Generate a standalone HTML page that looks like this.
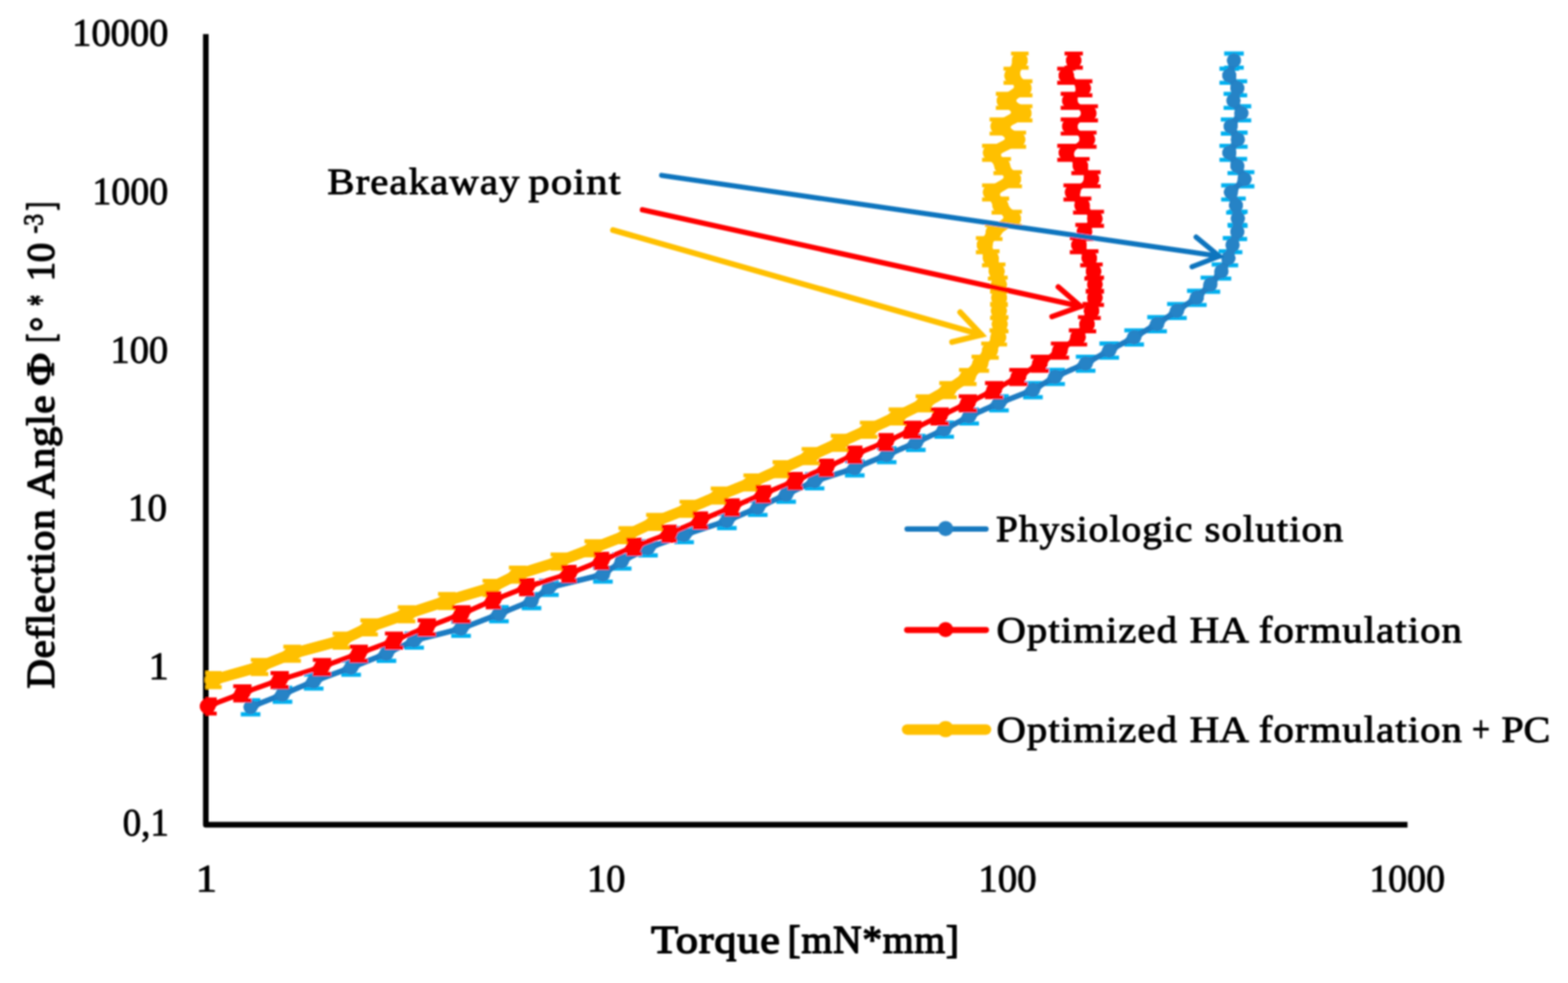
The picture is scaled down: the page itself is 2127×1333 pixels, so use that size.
<!DOCTYPE html>
<html lang="en">
<head>
<meta charset="utf-8">
<title>Torque vs. deflection angle</title>
<style>
html, body { margin: 0; padding: 0; background: #fff; }
body { width: 2127px; height: 1333px; overflow: hidden; }
svg { display: block; }
text { font-family: "Liberation Serif", "DejaVu Serif", serif; fill: #000; }
</style>
</head>
<body>
<svg width="2127" height="1333" viewBox="0 0 2127 1333" role="img" aria-label="Deflection angle versus torque for three formulations">
<rect width="2127" height="1333" fill="#fff"/>
<defs><filter id="soft" x="0" y="0" width="2127" height="1333" filterUnits="userSpaceOnUse"><feGaussianBlur stdDeviation="0.9"/></filter><clipPath id="plot"><rect x="279" y="40" width="1640" height="1079"/></clipPath><filter id="goo" x="0" y="0" width="2127" height="1333" filterUnits="userSpaceOnUse" color-interpolation-filters="sRGB"><feGaussianBlur in="SourceGraphic" stdDeviation="2.2" result="b"/><feColorMatrix in="b" type="matrix" values="1 0 0 0 0  0 1 0 0 0  0 0 1 0 0  0 0 0 9 -3.6"/></filter></defs>
<g filter="url(#soft)">
<path d="M279.2 46.2V1118.4H1909.3" fill="none" stroke="#000" stroke-width="7.6" stroke-linejoin="round"/>
<path clip-path="url(#plot)" d="M288.8 912.8V931.8M276.9 912.8h23.8M276.9 931.8h23.8M352.1 894.9V914.0M340.2 894.9h23.8M340.2 914.0h23.8M396.3 877.0V896.1M384.4 877.0h23.8M384.4 896.1h23.8M463.1 859.1V878.2M451.2 859.1h23.8M451.2 878.2h23.8M500.7 841.2V860.3M488.8 841.2h23.8M488.8 860.3h23.8M551.5 823.4V842.5M539.6 823.4h23.8M539.6 842.5h23.8M606.1 805.5V824.6M594.2 805.5h23.8M594.2 824.6h23.8M666.5 787.6V806.7M654.6 787.6h23.8M654.6 806.7h23.8M702.2 769.8V788.8M690.3 769.8h23.8M690.3 788.8h23.8M758.7 751.9V771.0M746.8 751.9h23.8M746.8 771.0h23.8M804.7 734.0V753.1M792.8 734.0h23.8M792.8 753.1h23.8M850.8 716.1V735.2M838.9 716.1h23.8M838.9 735.2h23.8M888.4 698.2V717.3M876.5 698.2h23.8M876.5 717.3h23.8M933.7 680.4V699.5M921.8 680.4h23.8M921.8 699.5h23.8M976.0 662.5V681.6M964.1 662.5h23.8M964.1 681.6h23.8M1020.4 644.6V663.7M1008.5 644.6h23.8M1008.5 663.7h23.8M1059.9 626.8V645.8M1048.0 626.8h23.8M1048.0 645.8h23.8M1099.3 608.9V628.0M1087.4 608.9h23.8M1087.4 628.0h23.8M1138.8 591.0V610.1M1126.9 591.0h23.8M1126.9 610.1h23.8M1178.3 573.1V592.2M1166.4 573.1h23.8M1166.4 592.2h23.8M1217.3 555.2V574.3M1205.4 555.2h23.8M1205.4 574.3h23.8M1254.0 537.4V556.5M1242.1 537.4h23.8M1242.1 556.5h23.8M1286.0 519.5V538.6M1274.1 519.5h23.8M1274.1 538.6h23.8M1312.8 501.6V520.7M1300.9 501.6h23.8M1300.9 520.7h23.8M1329.8 483.7V502.8M1317.9 483.7h23.8M1317.9 502.8h23.8M1342.9 465.9V485.0M1331.0 465.9h23.8M1331.0 485.0h23.8M1354.2 448.0V467.1M1342.3 448.0h23.8M1342.3 467.1h23.8M1356.1 430.1V449.2M1344.2 430.1h23.8M1344.2 449.2h23.8M1355.0 412.2V431.3M1343.1 412.2h23.8M1343.1 431.3h23.8M1355.3 394.4V413.5M1343.4 394.4h23.8M1343.4 413.5h23.8M1355.0 376.5V395.6M1343.1 376.5h23.8M1343.1 395.6h23.8M1352.0 358.6V377.7M1340.1 358.6h23.8M1340.1 377.7h23.8M1344.0 340.7V359.8M1332.1 340.7h23.8M1332.1 359.8h23.8M1335.7 322.9V342.0M1323.8 322.9h23.8M1323.8 342.0h23.8M1348.0 305.0V324.1M1336.1 305.0h23.8M1336.1 324.1h23.8M1374.3 287.1V306.2M1362.4 287.1h23.8M1362.4 306.2h23.8M1357.0 269.2V288.3M1345.1 269.2h23.8M1345.1 288.3h23.8M1344.1 251.4V270.5M1332.2 251.4h23.8M1332.2 270.5h23.8M1374.4 233.5V252.6M1362.5 233.5h23.8M1362.5 252.6h23.8M1359.5 215.6V234.7M1347.6 215.6h23.8M1347.6 234.7h23.8M1344.1 197.7V216.8M1332.2 197.7h23.8M1332.2 216.8h23.8M1380.0 179.9V199.0M1368.1 179.9h23.8M1368.1 199.0h23.8M1354.3 162.0V181.1M1342.4 162.0h23.8M1342.4 181.1h23.8M1388.6 144.1V163.2M1376.7 144.1h23.8M1376.7 163.2h23.8M1362.8 127.2V146.3M1350.9 127.2h23.8M1350.9 146.3h23.8M1388.6 110.2V129.3M1376.7 110.2h23.8M1376.7 129.3h23.8M1373.2 93.1V112.2M1361.3 93.1h23.8M1361.3 112.2h23.8M1383.4 72.6V91.7M1371.5 72.6h23.8M1371.5 91.7h23.8" fill="none" stroke="#FFC000" stroke-width="5.4"/>
<g filter="url(#goo)">
<polyline clip-path="url(#plot)" points="288.8,922.0 352.1,904.2 396.3,886.3 463.1,868.4 500.7,850.5 551.5,832.7 606.1,814.8 666.5,796.9 702.2,779.0 758.7,761.2 804.7,743.3 850.8,725.4 888.4,707.5 933.7,689.7 976.0,671.8 1020.4,653.9 1059.9,636.0 1099.3,618.2 1138.8,600.3 1178.3,582.4 1217.3,564.5 1254.0,546.7 1286.0,528.8 1312.8,510.9 1329.8,493.0 1342.9,475.2 1354.2,457.3 1356.1,439.4 1355.0,421.5 1355.3,403.7 1355.0,385.8 1352.0,367.9 1344.0,350.0 1335.7,332.2 1348.0,314.3 1374.3,296.4 1357.0,278.5 1344.1,260.7 1374.4,242.8 1359.5,224.9 1344.1,207.0 1380.0,189.2 1354.3,171.3 1388.6,153.4 1362.8,136.5 1388.6,119.5 1373.2,102.4 1383.4,81.9" fill="none" stroke="#FFC000" stroke-width="14.2" stroke-linejoin="round" stroke-linecap="round"/>
<g fill="#FFC000"><circle cx="288.8" cy="922.0" r="10.8"/><circle cx="352.1" cy="904.2" r="10.8"/><circle cx="396.3" cy="886.3" r="10.8"/><circle cx="463.1" cy="868.4" r="10.8"/><circle cx="500.7" cy="850.5" r="10.8"/><circle cx="551.5" cy="832.7" r="10.8"/><circle cx="606.1" cy="814.8" r="10.8"/><circle cx="666.5" cy="796.9" r="10.8"/><circle cx="702.2" cy="779.0" r="10.8"/><circle cx="758.7" cy="761.2" r="10.8"/><circle cx="804.7" cy="743.3" r="10.8"/><circle cx="850.8" cy="725.4" r="10.8"/><circle cx="888.4" cy="707.5" r="10.8"/><circle cx="933.7" cy="689.7" r="10.8"/><circle cx="976.0" cy="671.8" r="10.8"/><circle cx="1020.4" cy="653.9" r="10.8"/><circle cx="1059.9" cy="636.0" r="10.8"/><circle cx="1099.3" cy="618.2" r="10.8"/><circle cx="1138.8" cy="600.3" r="10.8"/><circle cx="1178.3" cy="582.4" r="10.8"/><circle cx="1217.3" cy="564.5" r="10.8"/><circle cx="1254.0" cy="546.7" r="10.8"/><circle cx="1286.0" cy="528.8" r="10.8"/><circle cx="1312.8" cy="510.9" r="10.8"/><circle cx="1329.8" cy="493.0" r="10.8"/><circle cx="1342.9" cy="475.2" r="10.8"/><circle cx="1354.2" cy="457.3" r="10.8"/><circle cx="1356.1" cy="439.4" r="10.8"/><circle cx="1355.0" cy="421.5" r="10.8"/><circle cx="1355.3" cy="403.7" r="10.8"/><circle cx="1355.0" cy="385.8" r="10.8"/><circle cx="1352.0" cy="367.9" r="10.8"/><circle cx="1344.0" cy="350.0" r="10.8"/><circle cx="1335.7" cy="332.2" r="10.8"/><circle cx="1348.0" cy="314.3" r="10.8"/><circle cx="1374.3" cy="296.4" r="10.8"/><circle cx="1357.0" cy="278.5" r="10.8"/><circle cx="1344.1" cy="260.7" r="10.8"/><circle cx="1374.4" cy="242.8" r="10.8"/><circle cx="1359.5" cy="224.9" r="10.8"/><circle cx="1344.1" cy="207.0" r="10.8"/><circle cx="1380.0" cy="189.2" r="10.8"/><circle cx="1354.3" cy="171.3" r="10.8"/><circle cx="1388.6" cy="153.4" r="10.8"/><circle cx="1362.8" cy="136.5" r="10.8"/><circle cx="1388.6" cy="119.5" r="10.8"/><circle cx="1373.2" cy="102.4" r="10.8"/><circle cx="1383.4" cy="81.9" r="10.8"/></g>
</g>
<path clip-path="url(#plot)" d="M339.9 949.5V968.6M326.6 949.5h26.6M326.6 968.6h26.6M383.2 932.5V951.6M369.9 932.5h26.6M369.9 951.6h26.6M425.5 914.6V933.7M412.2 914.6h26.6M412.2 933.7h26.6M476.3 895.9V915.0M463.0 895.9h26.6M463.0 915.0h26.6M524.2 877.0V896.1M510.9 877.0h26.6M510.9 896.1h26.6M561.8 859.1V878.2M548.5 859.1h26.6M548.5 878.2h26.6M625.4 843.1V862.2M612.1 843.1h26.6M612.1 862.2h26.6M676.8 823.4V842.5M663.5 823.4h26.6M663.5 842.5h26.6M721.0 805.5V824.6M707.7 805.5h26.6M707.7 824.6h26.6M744.6 787.6V806.7M731.3 787.6h26.6M731.3 806.7h26.6M817.9 769.8V788.8M804.6 769.8h26.6M804.6 788.8h26.6M843.3 751.9V771.0M830.0 751.9h26.6M830.0 771.0h26.6M879.0 734.0V753.1M865.7 734.0h26.6M865.7 753.1h26.6M928.0 716.1V735.2M914.7 716.1h26.6M914.7 735.2h26.6M986.0 697.0V716.1M972.7 697.0h26.6M972.7 716.1h26.6M1027.9 679.2V698.3M1014.6 679.2h26.6M1014.6 698.3h26.6M1066.4 661.3V680.4M1053.1 661.3h26.6M1053.1 680.4h26.6M1105.0 643.1V662.2M1091.7 643.1h26.6M1091.7 662.2h26.6M1159.5 625.5V644.6M1146.2 625.5h26.6M1146.2 644.6h26.6M1202.8 607.7V626.8M1189.5 607.7h26.6M1189.5 626.8h26.6M1242.3 591.0V610.1M1229.0 591.0h26.6M1229.0 610.1h26.6M1280.8 573.1V592.2M1267.5 573.1h26.6M1267.5 592.2h26.6M1314.7 555.2V574.3M1301.4 555.2h26.6M1301.4 574.3h26.6M1355.1 537.4V556.5M1341.8 537.4h26.6M1341.8 556.5h26.6M1401.2 519.5V538.6M1387.9 519.5h26.6M1387.9 538.6h26.6M1431.3 501.6V520.7M1418.0 501.6h26.6M1418.0 520.7h26.6M1472.7 483.7V502.8M1459.4 483.7h26.6M1459.4 502.8h26.6M1504.7 465.9V485.0M1491.4 465.9h26.6M1491.4 485.0h26.6M1538.5 448.0V467.1M1525.2 448.0h26.6M1525.2 467.1h26.6M1569.6 430.1V449.2M1556.3 430.1h26.6M1556.3 449.2h26.6M1596.5 412.2V431.3M1583.2 412.2h26.6M1583.2 431.3h26.6M1623.5 394.4V413.5M1610.2 394.4h26.6M1610.2 413.5h26.6M1641.9 376.5V395.6M1628.6 376.5h26.6M1628.6 395.6h26.6M1656.9 358.6V377.7M1643.6 358.6h26.6M1643.6 377.7h26.6M1666.3 340.7V359.8M1653.0 340.7h26.6M1653.0 359.8h26.6M1672.0 322.9V342.0M1658.7 322.9h26.6M1658.7 342.0h26.6M1678.4 305.0V324.1M1665.1 305.0h26.6M1665.1 324.1h26.6M1679.1 287.1V306.2M1665.8 287.1h26.6M1665.8 306.2h26.6M1676.6 269.2V288.3M1663.3 269.2h26.6M1663.3 288.3h26.6M1669.8 251.4V270.5M1656.5 251.4h26.6M1656.5 270.5h26.6M1688.3 233.5V252.6M1675.0 233.5h26.6M1675.0 252.6h26.6M1678.4 215.6V234.7M1665.1 215.6h26.6M1665.1 234.7h26.6M1667.5 197.7V216.8M1654.2 197.7h26.6M1654.2 216.8h26.6M1679.1 179.9V199.0M1665.8 179.9h26.6M1665.8 199.0h26.6M1669.3 162.0V181.1M1656.0 162.0h26.6M1656.0 181.1h26.6M1684.0 144.1V163.2M1670.7 144.1h26.6M1670.7 163.2h26.6M1673.1 127.2V146.3M1659.8 127.2h26.6M1659.8 146.3h26.6M1678.5 110.2V129.3M1665.2 110.2h26.6M1665.2 129.3h26.6M1667.5 93.1V112.2M1654.2 93.1h26.6M1654.2 112.2h26.6M1673.9 72.6V91.7M1660.6 72.6h26.6M1660.6 91.7h26.6" fill="none" stroke="#00B0F0" stroke-width="5.6"/>
<g filter="url(#goo)">
<polyline clip-path="url(#plot)" points="339.9,958.8 383.2,941.8 425.5,923.9 476.3,905.2 524.2,886.3 561.8,868.4 625.4,852.4 676.8,832.7 721.0,814.8 744.6,796.9 817.9,779.0 843.3,761.2 879.0,743.3 928.0,725.4 986.0,706.3 1027.9,688.5 1066.4,670.6 1105.0,652.4 1159.5,634.8 1202.8,617.0 1242.3,600.3 1280.8,582.4 1314.7,564.5 1355.1,546.7 1401.2,528.8 1431.3,510.9 1472.7,493.0 1504.7,475.2 1538.5,457.3 1569.6,439.4 1596.5,421.5 1623.5,403.7 1641.9,385.8 1656.9,367.9 1666.3,350.0 1672.0,332.2 1678.4,314.3 1679.1,296.4 1676.6,278.5 1669.8,260.7 1688.3,242.8 1678.4,224.9 1667.5,207.0 1679.1,189.2 1669.3,171.3 1684.0,153.4 1673.1,136.5 1678.5,119.5 1667.5,102.4 1673.9,81.9" fill="none" stroke="#1F7CC2" stroke-width="7.0" stroke-linejoin="round" stroke-linecap="round"/>
<g fill="#2683C6"><circle cx="339.9" cy="958.8" r="9.7"/><circle cx="383.2" cy="941.8" r="9.7"/><circle cx="425.5" cy="923.9" r="9.7"/><circle cx="476.3" cy="905.2" r="9.7"/><circle cx="524.2" cy="886.3" r="9.7"/><circle cx="561.8" cy="868.4" r="9.7"/><circle cx="625.4" cy="852.4" r="9.7"/><circle cx="676.8" cy="832.7" r="9.7"/><circle cx="721.0" cy="814.8" r="9.7"/><circle cx="744.6" cy="796.9" r="9.7"/><circle cx="817.9" cy="779.0" r="9.7"/><circle cx="843.3" cy="761.2" r="9.7"/><circle cx="879.0" cy="743.3" r="9.7"/><circle cx="928.0" cy="725.4" r="9.7"/><circle cx="986.0" cy="706.3" r="9.7"/><circle cx="1027.9" cy="688.5" r="9.7"/><circle cx="1066.4" cy="670.6" r="9.7"/><circle cx="1105.0" cy="652.4" r="9.7"/><circle cx="1159.5" cy="634.8" r="9.7"/><circle cx="1202.8" cy="617.0" r="9.7"/><circle cx="1242.3" cy="600.3" r="9.7"/><circle cx="1280.8" cy="582.4" r="9.7"/><circle cx="1314.7" cy="564.5" r="9.7"/><circle cx="1355.1" cy="546.7" r="9.7"/><circle cx="1401.2" cy="528.8" r="9.7"/><circle cx="1431.3" cy="510.9" r="9.7"/><circle cx="1472.7" cy="493.0" r="9.7"/><circle cx="1504.7" cy="475.2" r="9.7"/><circle cx="1538.5" cy="457.3" r="9.7"/><circle cx="1569.6" cy="439.4" r="9.7"/><circle cx="1596.5" cy="421.5" r="9.7"/><circle cx="1623.5" cy="403.7" r="9.7"/><circle cx="1641.9" cy="385.8" r="9.7"/><circle cx="1656.9" cy="367.9" r="9.7"/><circle cx="1666.3" cy="350.0" r="9.7"/><circle cx="1672.0" cy="332.2" r="9.7"/><circle cx="1678.4" cy="314.3" r="9.7"/><circle cx="1679.1" cy="296.4" r="9.7"/><circle cx="1676.6" cy="278.5" r="9.7"/><circle cx="1669.8" cy="260.7" r="9.7"/><circle cx="1688.3" cy="242.8" r="9.7"/><circle cx="1678.4" cy="224.9" r="9.7"/><circle cx="1667.5" cy="207.0" r="9.7"/><circle cx="1679.1" cy="189.2" r="9.7"/><circle cx="1669.3" cy="171.3" r="9.7"/><circle cx="1684.0" cy="153.4" r="9.7"/><circle cx="1673.1" cy="136.5" r="9.7"/><circle cx="1678.5" cy="119.5" r="9.7"/><circle cx="1667.5" cy="102.4" r="9.7"/><circle cx="1673.9" cy="81.9" r="9.7"/></g>
</g>
<path clip-path="url(#plot)" d="M281.6 948.5V967.6M269.2 948.5h24.8M269.2 967.6h24.8M328.8 930.6V949.7M316.4 930.6h24.8M316.4 949.7h24.8M379.4 912.8V931.8M367.0 912.8h24.8M367.0 931.8h24.8M436.8 894.9V914.0M424.4 894.9h24.8M424.4 914.0h24.8M486.6 877.0V896.1M474.2 877.0h24.8M474.2 896.1h24.8M534.6 859.1V878.2M522.2 859.1h24.8M522.2 878.2h24.8M578.9 841.2V860.3M566.5 841.2h24.8M566.5 860.3h24.8M625.9 823.4V842.5M613.5 823.4h24.8M613.5 842.5h24.8M669.3 804.5V823.6M658.9 804.5h20.8M658.9 823.6h20.8M714.5 786.6V805.7M704.1 786.6h20.8M704.1 805.7h20.8M771.8 768.8V787.8M761.4 768.8h20.8M761.4 787.8h20.8M816.0 750.9V770.0M805.6 750.9h20.8M805.6 770.0h20.8M860.2 732.0V751.1M849.8 732.0h20.8M849.8 751.1h20.8M907.8 714.1V733.2M897.4 714.1h20.8M897.4 733.2h20.8M950.1 696.2V715.3M939.7 696.2h20.8M939.7 715.3h20.8M993.1 678.4V697.5M982.7 678.4h20.8M982.7 697.5h20.8M1035.4 660.5V679.6M1025.0 660.5h20.8M1025.0 679.6h20.8M1078.7 642.6V661.7M1068.3 642.6h20.8M1068.3 661.7h20.8M1121.0 624.8V643.8M1110.6 624.8h20.8M1110.6 643.8h20.8M1159.5 606.9V626.0M1149.1 606.9h20.8M1149.1 626.0h20.8M1201.9 590.0V609.1M1191.5 590.0h20.8M1191.5 609.1h20.8M1237.6 573.1V592.2M1225.2 573.1h24.8M1225.2 592.2h24.8M1274.7 555.2V574.3M1262.3 555.2h24.8M1262.3 574.3h24.8M1312.8 537.4V556.5M1300.4 537.4h24.8M1300.4 556.5h24.8M1348.6 519.5V538.6M1336.2 519.5h24.8M1336.2 538.6h24.8M1381.5 501.6V520.7M1369.1 501.6h24.8M1369.1 520.7h24.8M1410.6 483.7V502.8M1398.2 483.7h24.8M1398.2 502.8h24.8M1437.9 465.9V485.0M1425.5 465.9h24.8M1425.5 485.0h24.8M1462.3 448.0V467.1M1449.9 448.0h24.8M1449.9 467.1h24.8M1474.6 430.1V449.2M1462.2 430.1h24.8M1462.2 449.2h24.8M1480.8 412.2V431.3M1468.4 412.2h24.8M1468.4 431.3h24.8M1485.2 394.4V413.5M1472.8 394.4h24.8M1472.8 413.5h24.8M1485.2 376.5V395.6M1472.8 376.5h24.8M1472.8 395.6h24.8M1483.4 358.6V377.7M1471.0 358.6h24.8M1471.0 377.7h24.8M1477.7 340.7V359.8M1465.3 340.7h24.8M1465.3 359.8h24.8M1463.6 322.9V342.0M1451.2 322.9h24.8M1451.2 342.0h24.8M1471.1 305.0V324.1M1458.7 305.0h24.8M1458.7 324.1h24.8M1485.2 287.1V306.2M1472.8 287.1h24.8M1472.8 306.2h24.8M1468.0 269.2V288.3M1455.6 269.2h24.8M1455.6 288.3h24.8M1455.0 251.4V270.5M1442.6 251.4h24.8M1442.6 270.5h24.8M1480.6 233.5V252.6M1468.2 233.5h24.8M1468.2 252.6h24.8M1465.7 215.6V234.7M1453.3 215.6h24.8M1453.3 234.7h24.8M1446.6 197.7V216.8M1434.2 197.7h24.8M1434.2 216.8h24.8M1475.1 179.9V199.0M1462.7 179.9h24.8M1462.7 199.0h24.8M1451.2 162.0V181.1M1438.8 162.0h24.8M1438.8 181.1h24.8M1477.0 144.1V163.2M1464.6 144.1h24.8M1464.6 163.2h24.8M1451.2 127.2V146.3M1438.8 127.2h24.8M1438.8 146.3h24.8M1469.4 110.2V129.3M1457.0 110.2h24.8M1457.0 129.3h24.8M1446.5 93.1V112.2M1434.1 93.1h24.8M1434.1 112.2h24.8M1456.5 72.6V91.7M1444.1 72.6h24.8M1444.1 91.7h24.8" fill="none" stroke="#FF0000" stroke-width="5.4"/>
<g filter="url(#goo)">
<polyline clip-path="url(#plot)" points="281.6,957.8 328.8,939.9 379.4,922.0 436.8,904.2 486.6,886.3 534.6,868.4 578.9,850.5 625.9,832.7 669.3,813.8 714.5,795.9 771.8,778.0 816.0,760.2 860.2,741.3 907.8,723.4 950.1,705.5 993.1,687.7 1035.4,669.8 1078.7,651.9 1121.0,634.0 1159.5,616.2 1201.9,599.3 1237.6,582.4 1274.7,564.5 1312.8,546.7 1348.6,528.8 1381.5,510.9 1410.6,493.0 1437.9,475.2 1462.3,457.3 1474.6,439.4 1480.8,421.5 1485.2,403.7 1485.2,385.8 1483.4,367.9 1477.7,350.0 1463.6,332.2 1471.1,314.3 1485.2,296.4 1468.0,278.5 1455.0,260.7 1480.6,242.8 1465.7,224.9 1446.6,207.0 1475.1,189.2 1451.2,171.3 1477.0,153.4 1451.2,136.5 1469.4,119.5 1446.5,102.4 1456.5,81.9" fill="none" stroke="#FF0000" stroke-width="6.4" stroke-linejoin="round" stroke-linecap="round"/>
<g fill="#FF0000"><circle cx="281.6" cy="957.8" r="10.6"/><circle cx="328.8" cy="939.9" r="10.6"/><circle cx="379.4" cy="922.0" r="10.6"/><circle cx="436.8" cy="904.2" r="10.6"/><circle cx="486.6" cy="886.3" r="10.6"/><circle cx="534.6" cy="868.4" r="10.6"/><circle cx="578.9" cy="850.5" r="10.6"/><circle cx="625.9" cy="832.7" r="10.6"/><circle cx="669.3" cy="813.8" r="10.6"/><circle cx="714.5" cy="795.9" r="10.6"/><circle cx="771.8" cy="778.0" r="10.6"/><circle cx="816.0" cy="760.2" r="10.6"/><circle cx="860.2" cy="741.3" r="10.6"/><circle cx="907.8" cy="723.4" r="10.6"/><circle cx="950.1" cy="705.5" r="10.6"/><circle cx="993.1" cy="687.7" r="10.6"/><circle cx="1035.4" cy="669.8" r="10.6"/><circle cx="1078.7" cy="651.9" r="10.6"/><circle cx="1121.0" cy="634.0" r="10.6"/><circle cx="1159.5" cy="616.2" r="10.6"/><circle cx="1201.9" cy="599.3" r="10.6"/><circle cx="1237.6" cy="582.4" r="10.6"/><circle cx="1274.7" cy="564.5" r="10.6"/><circle cx="1312.8" cy="546.7" r="10.6"/><circle cx="1348.6" cy="528.8" r="10.6"/><circle cx="1381.5" cy="510.9" r="10.6"/><circle cx="1410.6" cy="493.0" r="10.6"/><circle cx="1437.9" cy="475.2" r="10.6"/><circle cx="1462.3" cy="457.3" r="10.6"/><circle cx="1474.6" cy="439.4" r="10.6"/><circle cx="1480.8" cy="421.5" r="10.6"/><circle cx="1485.2" cy="403.7" r="10.6"/><circle cx="1485.2" cy="385.8" r="10.6"/><circle cx="1483.4" cy="367.9" r="10.6"/><circle cx="1477.7" cy="350.0" r="10.6"/><circle cx="1463.6" cy="332.2" r="10.6"/><circle cx="1471.1" cy="314.3" r="10.6"/><circle cx="1485.2" cy="296.4" r="10.6"/><circle cx="1468.0" cy="278.5" r="10.6"/><circle cx="1455.0" cy="260.7" r="10.6"/><circle cx="1480.6" cy="242.8" r="10.6"/><circle cx="1465.7" cy="224.9" r="10.6"/><circle cx="1446.6" cy="207.0" r="10.6"/><circle cx="1475.1" cy="189.2" r="10.6"/><circle cx="1451.2" cy="171.3" r="10.6"/><circle cx="1477.0" cy="153.4" r="10.6"/><circle cx="1451.2" cy="136.5" r="10.6"/><circle cx="1469.4" cy="119.5" r="10.6"/><circle cx="1446.5" cy="102.4" r="10.6"/><circle cx="1456.5" cy="81.9" r="10.6"/></g>
</g>
<g fill="none" stroke="#1174BE" stroke-width="6.9" stroke-linecap="round" stroke-linejoin="miter"><path d="M897.5 237.8L1653.9 347.4"/><path d="M1622.5 321.5L1653.9 347.4L1617.0 361.8"/></g>
<g fill="none" stroke="#FF0000" stroke-width="7.2" stroke-linecap="round" stroke-linejoin="miter"><path d="M871.5 284.5L1466.0 415.5"/><path d="M1435.5 389L1466.0 415.5L1427.0 429.4"/></g>
<g fill="none" stroke="#FFC000" stroke-width="7.8" stroke-linecap="round" stroke-linejoin="miter"><path d="M831.5 312.0L1331.5 454.0"/><path d="M1302.5 423.5L1331.5 454.0L1291.5 463.8"/></g>
<path d="M1230.5 717.3H1337.5" stroke="#1578BF" stroke-width="7.2" stroke-linecap="round" fill="none"/>
<circle cx="1282.7" cy="716.7" r="10.3" fill="#2683C6"/>
<path d="M1230.5 854.3H1337.5" stroke="#FF0000" stroke-width="8.2" stroke-linecap="round" fill="none"/>
<circle cx="1282.7" cy="853.7" r="10.3" fill="#FF0000"/>
<path d="M1230.5 989.3H1337.5" stroke="#FFC000" stroke-width="14.2" stroke-linecap="round" fill="none"/>
<circle cx="1282.7" cy="988.7" r="11.0" fill="#FFC000"/>
<text font-size="52" font-weight="normal" stroke="#000" stroke-width="1.1" stroke-linejoin="round"><tspan x="97.8" y="61.6" textLength="130.7" lengthAdjust="spacingAndGlyphs">10000</tspan></text>
<text font-size="52" font-weight="normal" stroke="#000" stroke-width="1.1" stroke-linejoin="round"><tspan x="125.3" y="276.6" textLength="102.8" lengthAdjust="spacingAndGlyphs">1000</tspan></text>
<text font-size="52" font-weight="normal" stroke="#000" stroke-width="1.1" stroke-linejoin="round"><tspan x="149.8" y="492.0" textLength="78.4" lengthAdjust="spacingAndGlyphs">100</tspan></text>
<text font-size="52" font-weight="normal" stroke="#000" stroke-width="1.1" stroke-linejoin="round"><tspan x="173.4" y="705.8" textLength="53.2" lengthAdjust="spacingAndGlyphs">10</tspan></text>
<text font-size="52" font-weight="normal" stroke="#000" stroke-width="1.1" stroke-linejoin="round"><tspan x="201.5" y="920.5" textLength="27.4" lengthAdjust="spacingAndGlyphs">1</tspan></text>
<text font-size="52" font-weight="normal" stroke="#000" stroke-width="1.1" stroke-linejoin="round"><tspan x="166.4" y="1133.0" textLength="62.5" lengthAdjust="spacingAndGlyphs">0,1</tspan></text>
<text font-size="52" font-weight="normal" stroke="#000" stroke-width="1.1" stroke-linejoin="round"><tspan x="265.5" y="1209.0" textLength="28.9" lengthAdjust="spacingAndGlyphs">1</tspan></text>
<text font-size="52" font-weight="normal" stroke="#000" stroke-width="1.1" stroke-linejoin="round"><tspan x="796.2" y="1209.0" textLength="52.3" lengthAdjust="spacingAndGlyphs">10</tspan></text>
<text font-size="52" font-weight="normal" stroke="#000" stroke-width="1.1" stroke-linejoin="round"><tspan x="1327.0" y="1209.0" textLength="79.2" lengthAdjust="spacingAndGlyphs">100</tspan></text>
<text font-size="52" font-weight="normal" stroke="#000" stroke-width="1.1" stroke-linejoin="round"><tspan x="1857.4" y="1209.0" textLength="102.8" lengthAdjust="spacingAndGlyphs">1000</tspan></text>
<text font-size="51.5" font-weight="normal" stroke="#000" stroke-width="1.25" stroke-linejoin="round"><tspan x="444.0" y="262.8" textLength="262.2" lengthAdjust="spacingAndGlyphs" letter-spacing="1.4">Breakaway</tspan> <tspan x="716.7" y="262.8" textLength="126.6" lengthAdjust="spacingAndGlyphs" letter-spacing="1.4">point</tspan></text>
<text font-size="51.5" font-weight="normal" stroke="#000" stroke-width="1.25" stroke-linejoin="round"><tspan x="1350.9" y="734.2" textLength="268.1" lengthAdjust="spacingAndGlyphs" letter-spacing="1.4">Physiologic</tspan> <tspan x="1634.1" y="734.2" textLength="189.5" lengthAdjust="spacingAndGlyphs" letter-spacing="1.4">solution</tspan></text>
<text font-size="51.5" font-weight="normal" stroke="#000" stroke-width="1.25" stroke-linejoin="round"><tspan x="1351.8" y="871.2" textLength="246.3" lengthAdjust="spacingAndGlyphs" letter-spacing="1.4">Optimized</tspan> <tspan x="1613.8" y="871.2" textLength="77.3" lengthAdjust="spacingAndGlyphs">HA</tspan> <tspan x="1707.5" y="871.2" textLength="277.2" lengthAdjust="spacingAndGlyphs" letter-spacing="1.4">formulation</tspan></text>
<text font-size="51.5" font-weight="normal" stroke="#000" stroke-width="1.25" stroke-linejoin="round"><tspan x="1351.8" y="1006.2" textLength="246.3" lengthAdjust="spacingAndGlyphs" letter-spacing="1.4">Optimized</tspan> <tspan x="1613.8" y="1006.2" textLength="77.3" lengthAdjust="spacingAndGlyphs">HA</tspan> <tspan x="1707.5" y="1006.2" textLength="277.2" lengthAdjust="spacingAndGlyphs" letter-spacing="1.4">formulation</tspan> <tspan x="1996.7" y="1006.2" textLength="24.4" lengthAdjust="spacingAndGlyphs">+</tspan> <tspan x="2036.7" y="1006.2" textLength="66.3" lengthAdjust="spacingAndGlyphs">PC</tspan></text>
<text font-size="53" font-weight="normal" stroke="#000" stroke-width="1.85" stroke-linejoin="round"><tspan x="883.2" y="1292.3" textLength="175.8" lengthAdjust="spacingAndGlyphs" letter-spacing="1.0">Torque</tspan> <tspan x="1068.3" y="1292.3" textLength="233.7" lengthAdjust="spacingAndGlyphs" letter-spacing="1.0">[mN*mm]</tspan></text>
<g transform="translate(73.0 934.2) rotate(-90)"><text font-size="53" font-weight="normal" stroke="#000" stroke-width="1.85" stroke-linejoin="round"><tspan x="0.5" y="0.0" textLength="243.9" lengthAdjust="spacingAndGlyphs" letter-spacing="1.0">Deflection</tspan> <tspan x="258.0" y="0.0" textLength="141.0" lengthAdjust="spacingAndGlyphs" letter-spacing="1.0">Angle</tspan> <tspan x="411.3" y="0.0" textLength="44.4" lengthAdjust="spacingAndGlyphs">Φ</tspan> <tspan x="469.7" y="0.0" textLength="11.9" lengthAdjust="spacingAndGlyphs">[</tspan> <tspan x="484.5" y="1.5" font-size="50" stroke-width="1.8">°</tspan> <tspan x="519.3" y="0.0" textLength="15.1" lengthAdjust="spacingAndGlyphs">*</tspan> <tspan x="552.7" y="0.0" textLength="52.2" lengthAdjust="spacingAndGlyphs">10</tspan> <tspan x="617.7" y="-15.5" textLength="26.3" lengthAdjust="spacingAndGlyphs" font-size="38" stroke-width="1.5">-3</tspan> <tspan x="648.8" y="0.0" textLength="11.9" lengthAdjust="spacingAndGlyphs">]</tspan></text></g>
</g>
</svg>
</body>
</html>
